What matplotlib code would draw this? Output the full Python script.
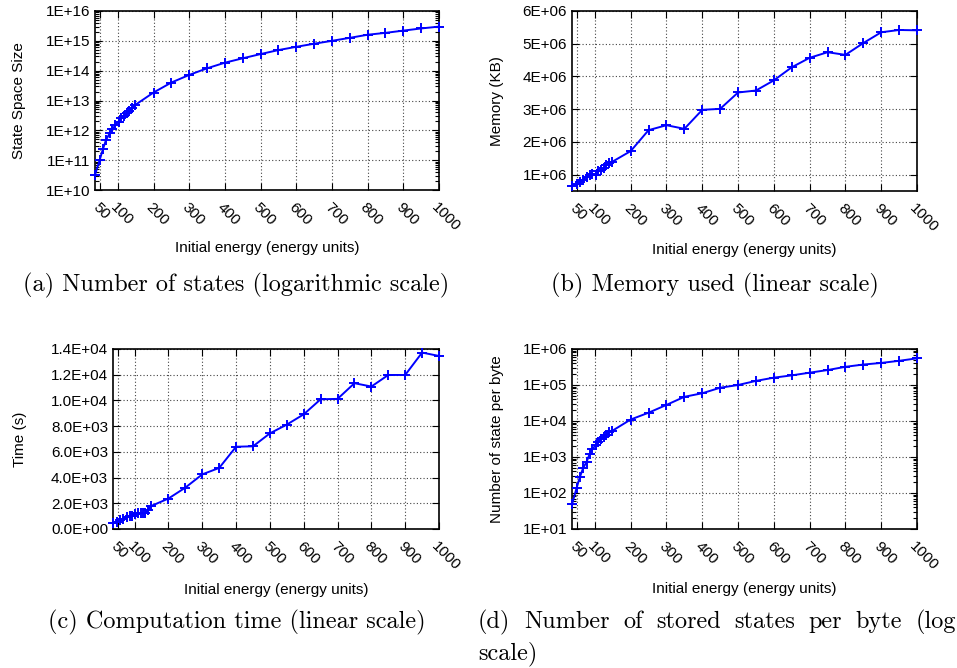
import numpy as np
import matplotlib.pyplot as plt
from matplotlib.ticker import LogLocator, NullLocator, NullFormatter

plt.rcParams['font.family'] = ['Liberation Sans', 'DejaVu Sans']

# initial energy (x values shared by all four panels)
energy = [36, 49, 58, 67, 77, 85, 93, 102, 110, 118, 125, 132, 140, 148,
          200, 250, 300, 350, 400, 450, 500, 550, 600, 650, 700, 750, 800,
          850, 900, 950, 1000]

# (a) state space size
states = [3.2e10, 1.0e11, 2.3e11, 4.8e11, 7.9e11, 1.1e12, 1.5e12, 1.95e12,
          2.5e12, 3.0e12, 3.7e12, 4.5e12, 5.4e12, 7.0e12,
          1.85e13, 4.0e13, 7.2e13, 1.2e14, 1.85e14, 2.6e14, 3.6e14, 4.9e14,
          6.3e14, 8.0e14, 1.0e15, 1.26e15, 1.6e15, 1.85e15, 2.2e15, 2.6e15,
          3.0e15]

# (b) memory (KB)
memory = [0.66e6, 0.70e6, 0.77e6, 0.84e6, 0.93e6, 1.0e6, 1.02e6, 1.0e6,
          1.1e6, 1.15e6, 1.19e6, 1.29e6, 1.35e6, 1.39e6,
          1.72e6, 2.36e6, 2.51e6, 2.40e6, 2.98e6, 3.01e6, 3.51e6, 3.57e6,
          3.88e6, 4.28e6, 4.57e6, 4.74e6, 4.66e6, 5.02e6, 5.35e6, 5.42e6,
          5.41e6]

# (c) computation time (s)
time_s = [430, 570, 690, 800, 900, 980, 1050, 1150, 1220, 1230, 1260, 1280,
          1500, 1780,
          2370, 3220, 4250, 4750, 6400, 6430, 7440, 8120, 8920, 10090, 10120,
          11340, 11080, 11980, 11980, 13720, 13460]

# (d) stored states per byte
per_byte = [48, 140, 277, 490, 740, 1200, 1700, 2100, 2600, 3200, 3600, 4200,
            4800, 5300,
            1.1e4, 1.7e4, 2.8e4, 4.7e4, 5.9e4, 8.4e4, 1.0e5, 1.3e5, 1.6e5,
            1.85e5, 2.2e5, 2.6e5, 3.2e5, 3.7e5, 4.1e5, 4.7e5, 5.5e5]

x_ticks = [50, 100, 200, 300, 400, 500, 600, 700, 800, 900, 1000]

a_ticks = [1e10, 1e11, 1e12, 1e13, 1e14, 1e15, 1e16]
a_labels = ['1E+10', '1E+11', '1E+12', '1E+13', '1E+14', '1E+15', '1E+16']
b_ticks = [1e6, 2e6, 3e6, 4e6, 5e6, 6e6]
b_labels = ['1E+06', '2E+06', '3E+06', '4E+06', '5E+06', '6E+06']
c_ticks = [0, 2000, 4000, 6000, 8000, 10000, 12000, 14000]
c_labels = ['0.0E+00', '2.0E+03', '4.0E+03', '6.0E+03', '8.0E+03',
            '1.0E+04', '1.2E+04', '1.4E+04']
d_ticks = [1e1, 1e2, 1e3, 1e4, 1e5, 1e6]
d_labels = ['1E+01', '1E+02', '1E+03', '1E+04', '1E+05', '1E+06']

W, H = 957, 668
fig = plt.figure(figsize=(W / 100, H / 100), dpi=100)


def rect(l, r, t, b):
    return [l / W, 1 - b / H, (r - l) / W, (b - t) / H]


def panel(box, y, ylabel, yticks, ylabels, ylim, log, ylab_x, xlab_y):
    ax = fig.add_axes(rect(*box))
    ax.plot(energy, y, color='#0000ff', lw=1.4, marker='+', ms=7, mew=1.4,
            clip_on=False, zorder=3)
    if log:
        ax.set_yscale('log')
    ax.set_xlim(energy[0], 1000)
    ax.set_ylim(*ylim)
    ax.set_xticks(x_ticks)
    ax.set_xticklabels([str(t) for t in x_ticks], rotation=-45, ha='left',
                       va='top', rotation_mode='anchor')
    ax.set_yticks(yticks)
    ax.set_yticklabels(ylabels)
    if log:
        ax.yaxis.set_minor_locator(LogLocator(base=10, subs=np.arange(2, 10),
                                              numticks=30))
        ax.yaxis.set_minor_formatter(NullFormatter())
    else:
        ax.yaxis.set_minor_locator(NullLocator())
    ax.xaxis.set_minor_locator(NullLocator())
    ax.tick_params(which='both', direction='in', top=True, right=True,
                   labelsize=11, width=0.8)
    ax.tick_params(which='major', length=5)
    ax.tick_params(which='minor', length=3)
    ax.tick_params(axis='x', pad=7)
    ax.grid(True, which='major', ls=(0, (1, 2)), color='#444444', lw=0.8)
    for s in ax.spines.values():
        s.set_linewidth(1.2)
    ax.set_ylabel(ylabel, fontsize=11)
    ax.yaxis.set_label_coords(ylab_x, 0.5)
    ax.set_xlabel('Initial energy (energy units)', fontsize=11)
    ax.xaxis.set_label_coords(0.5, xlab_y)
    return ax


panel((95, 439, 11, 190), states, 'State Space Size', a_ticks, a_labels,
      (1e10, 1e16), True, -0.200, -0.285)
panel((572, 917, 11, 191), memory, 'Memory (KB)', b_ticks, b_labels,
      (5e5, 6e6), False, -0.197, -0.289)
panel((113, 439, 349, 529), time_s, 'Time (s)', c_ticks, c_labels,
      (0, 14000), False, -0.264, -0.30)
panel((572, 917, 349, 529), per_byte, 'Number of state per byte', d_ticks,
      d_labels, (10, 1e6), True, -0.197, -0.293)

cap = dict(family='cmr10', fontsize=17.5, va='center')
fig.text(236 / W, 1 - 285 / H, '(a) Number of states (logarithmic scale)',
         ha='center', **cap)
fig.text(715 / W, 1 - 285 / H, '(b) Memory used (linear scale)',
         ha='center', **cap)
fig.text(237 / W, 1 - 622 / H, '(c) Computation time (linear scale)',
         ha='center', **cap)

# (d) caption: justified first line, then "scale)"
words = '(d) Number of stored states per byte (log'.split()
x_left, x_right = 478, 956
objs = [fig.text(0, 1 - 622 / H, w, ha='left', **cap) for w in words]
fig.canvas.draw()
r = fig.canvas.get_renderer()
widths = [o.get_window_extent(r).width for o in objs]
gap = (x_right - x_left - sum(widths)) / (len(words) - 1)
x = x_left
for o, w in zip(objs, widths):
    o.set_x(x / W)
    x += w + gap
fig.text(x_left / W, 1 - 654 / H, 'scale)', ha='left', **cap)

fig.savefig('out.png', dpi=100)
